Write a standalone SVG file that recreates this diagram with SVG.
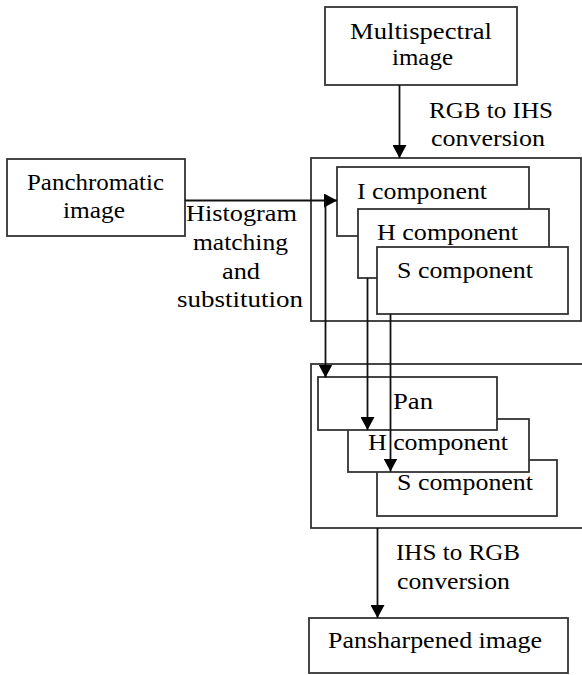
<svg xmlns="http://www.w3.org/2000/svg" width="582" height="675" viewBox="0 0 582 675" font-family="Liberation Serif, DejaVu Serif, serif">
<style>
.box{fill:#fff;stroke:#333;stroke-width:1.8}
text{font-family:"Liberation Serif","DejaVu Serif",serif;font-size:24px;fill:#000}
.c{fill:none;stroke:#111;stroke-width:1.8}
</style>
<defs>
<marker id="ah" markerUnits="userSpaceOnUse" markerWidth="13" markerHeight="14" refX="13" refY="7" orient="auto">
<path d="M0,0 L13,7 L0,14 z" fill="#000"/>
</marker>
</defs>
<rect width="582" height="675" fill="#fff"/>
<g id="multispectral">
<rect class="box" x="325" y="7" width="192" height="78"/>
<text x="350" y="39" textLength="142" lengthAdjust="spacingAndGlyphs">Multispectral</text>
<text x="392" y="65" textLength="61" lengthAdjust="spacingAndGlyphs">image</text>
</g>
<g id="label-rgb2ihs">
<text x="429" y="118" textLength="124" lengthAdjust="spacingAndGlyphs">RGB to IHS</text>
<text x="431" y="146" textLength="114" lengthAdjust="spacingAndGlyphs">conversion</text>
</g>
<g id="panchromatic">
<rect class="box" x="7" y="159" width="178" height="77"/>
<text x="27" y="190" textLength="137" lengthAdjust="spacingAndGlyphs">Panchromatic</text>
<text x="63" y="218" textLength="62" lengthAdjust="spacingAndGlyphs">image</text>
</g>
<g id="label-histogram">
<text x="186" y="221" textLength="111" lengthAdjust="spacingAndGlyphs">Histogram</text>
<text x="193" y="250" textLength="95" lengthAdjust="spacingAndGlyphs">matching</text>
<text x="222" y="279" textLength="38" lengthAdjust="spacingAndGlyphs">and</text>
<text x="177" y="307" textLength="126" lengthAdjust="spacingAndGlyphs">substitution</text>
</g>
<g id="ihs-components">
<rect class="box" x="311" y="158" width="270" height="163"/>
<g id="i-component">
<rect class="box" x="337" y="167" width="192" height="69"/>
<text x="357" y="199" textLength="130" lengthAdjust="spacingAndGlyphs">I component</text>
</g>
<g id="h-component">
<rect class="box" x="358" y="209" width="191" height="69"/>
<text x="377" y="240" textLength="141" lengthAdjust="spacingAndGlyphs">H component</text>
</g>
<g id="s-component">
<rect class="box" x="377" y="247" width="191" height="67"/>
<text x="397" y="278" textLength="136" lengthAdjust="spacingAndGlyphs">S component</text>
</g>
</g>
<g id="substituted-components">
<rect class="box" x="311" y="364" width="280" height="164"/>
<g id="s-component-2">
<rect class="box" x="377" y="460" width="180" height="56"/>
<text x="397" y="490" textLength="136" lengthAdjust="spacingAndGlyphs">S component</text>
</g>
<g id="h-component-2">
<rect class="box" x="348" y="419" width="181" height="53"/>
<text x="368" y="450" textLength="140" lengthAdjust="spacingAndGlyphs">H component</text>
</g>
<g id="pan">
<rect class="box" x="318" y="377" width="179" height="53"/>
<text x="393" y="409" textLength="40" lengthAdjust="spacingAndGlyphs">Pan</text>
</g>
</g>
<g id="label-ihs2rgb">
<text x="396" y="560" textLength="124" lengthAdjust="spacingAndGlyphs">IHS to RGB</text>
<text x="397" y="589" textLength="113" lengthAdjust="spacingAndGlyphs">conversion</text>
</g>
<g id="pansharpened">
<rect class="box" x="309" y="618" width="259" height="55"/>
<text x="328" y="648" textLength="214" lengthAdjust="spacingAndGlyphs">Pansharpened  image</text>
</g>
<g id="connectors">
<line class="c" x1="399.5" y1="85" x2="399.5" y2="158" marker-end="url(#ah)"/>
<line class="c" x1="185" y1="200.5" x2="337" y2="200.5" marker-end="url(#ah)"/>
<line class="c" x1="325.5" y1="200.5" x2="325.5" y2="377.5" marker-end="url(#ah)"/>
<line class="c" x1="367.5" y1="278" x2="367.5" y2="430" marker-end="url(#ah)"/>
<line class="c" x1="390.5" y1="314" x2="390.5" y2="471.5" marker-end="url(#ah)"/>
<line class="c" x1="377.5" y1="528" x2="377.5" y2="618" marker-end="url(#ah)"/>
</g>
</svg>
